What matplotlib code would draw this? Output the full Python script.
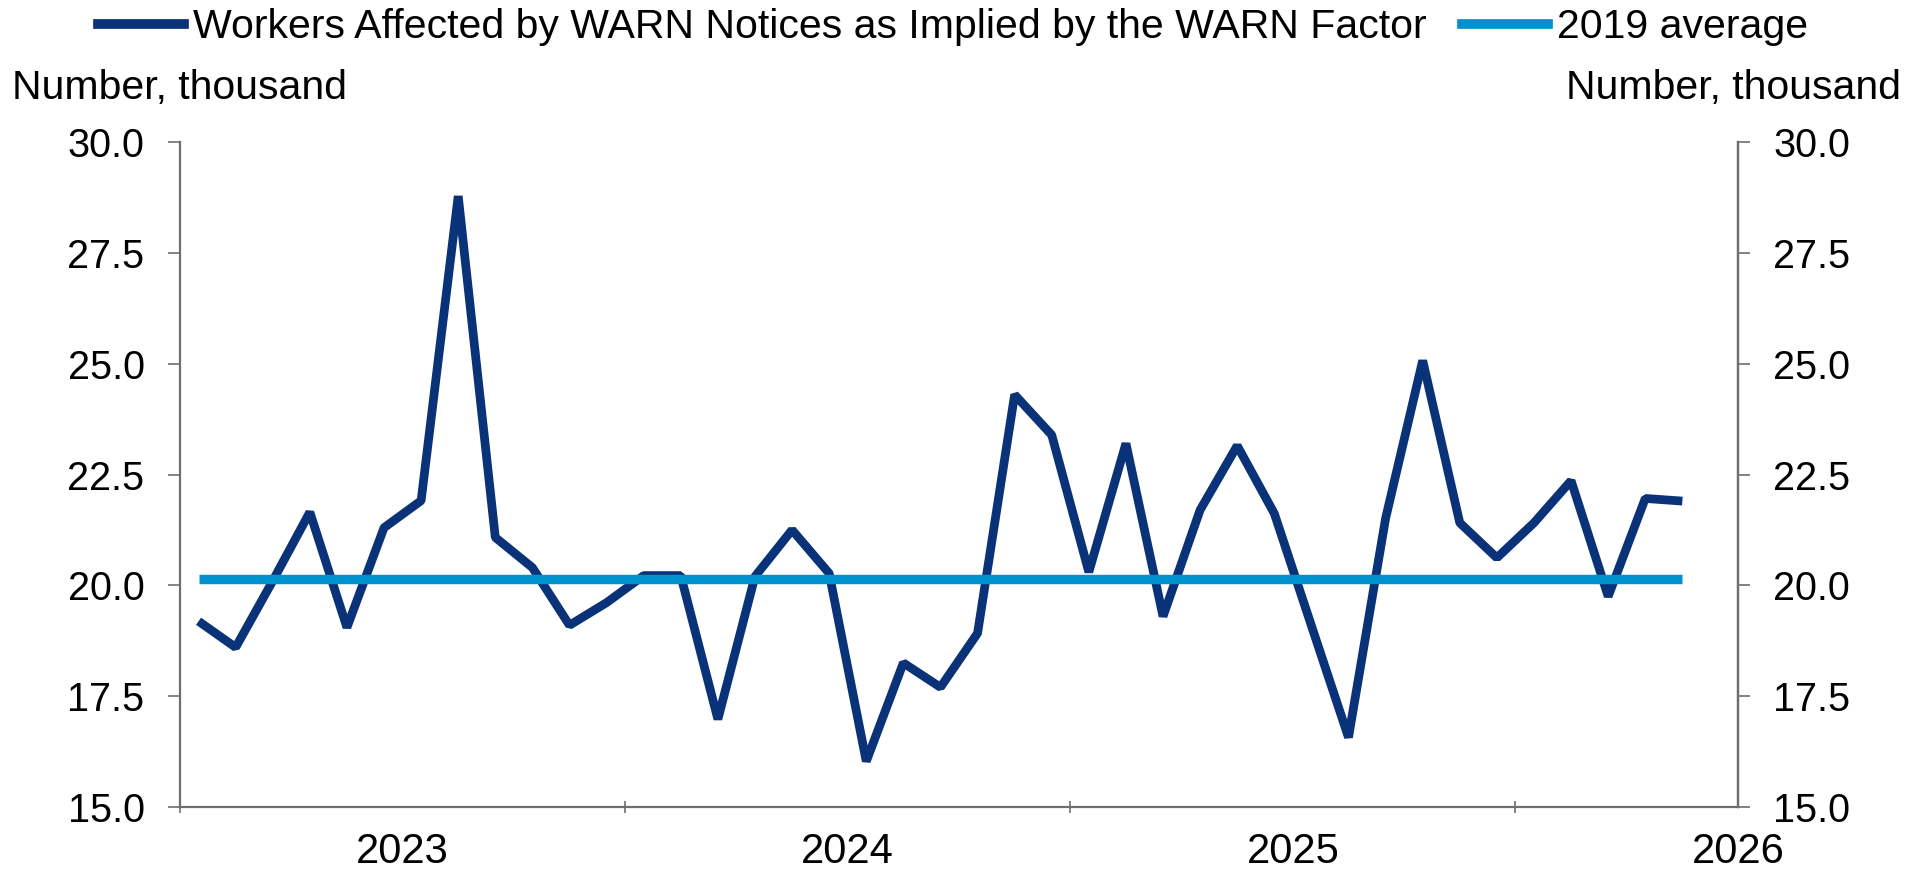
import matplotlib
matplotlib.use('Agg')
import matplotlib.pyplot as plt
from matplotlib.lines import Line2D
import numpy as np
import pandas as pd

# ---- data ----
months = pd.period_range('2023-01', periods=41, freq='M')
warn_workers = [19.19, 18.60, 20.10, 21.65, 19.05, 21.30, 21.91, 28.78, 21.08, 20.40,
                19.10, 19.61, 20.22, 20.22, 16.98, 20.20, 21.25, 20.27, 16.03, 18.25,
                17.70, 18.92, 24.30, 23.39, 20.30, 23.20, 19.30, 21.70, 23.15, 21.62,
                19.09, 16.57, 21.51, 25.07, 21.41, 20.62, 21.41, 22.36, 19.75, 21.96,
                21.90]
avg_2019 = 20.15
year_labels = ['2023', '2024', '2025', '2026']
y_ticks = [15.0, 17.5, 20.0, 22.5, 25.0, 27.5, 30.0]

series_name = 'Workers Affected by WARN Notices as Implied by the WARN Factor'
avg_name = '2019 average'

# ---- style ----
plt.rcParams['font.family'] = ['Liberation Sans', 'DejaVu Sans']
dark = '#0A3278'
light = '#0092D0'
spine_c = '#6E6E6E'
fs_y = 28.5
fs_x = 30
fs_lab = 29.5
fs_leg = 29.5

start = pd.Period('2023-01', freq='M')
x = np.array([(m - start).n for m in months]) + 0.5

fig = plt.figure(figsize=(19.23, 8.73), dpi=100)
ax = fig.add_axes([180 / 1923, 1 - 807 / 873, (1738 - 180) / 1923, (807 - 142) / 873])

ax.plot(x, warn_workers, color=dark, lw=6.3, solid_joinstyle='bevel',
        solid_capstyle='butt', zorder=2)
ax.plot([x[0], x[-1]], [avg_2019, avg_2019], color=light, lw=6.8, zorder=3,
        solid_capstyle='butt')

ax.set_xlim(0, 42)
ax.set_ylim(15, 30)
ax.set_yticks(y_ticks)
ax.set_yticklabels([f'{v:.1f}' for v in y_ticks])

ax.set_xticks([0, 12, 24, 36])
ax.set_xticklabels([])
ax.set_xticks([6, 18, 30, 42], minor=True)
ax.set_xticklabels(year_labels, minor=True)
ax.tick_params(axis='x', which='major', direction='inout', length=9, width=1.2,
               color=spine_c)
ax.tick_params(axis='x', which='minor', length=0, pad=18, labelsize=fs_x)
ax.tick_params(axis='y', direction='out', length=8.5, width=1.2, color=spine_c,
               pad=17, labelsize=fs_y)

for s in ['left', 'bottom', 'right']:
    ax.spines[s].set_color(spine_c)
    ax.spines[s].set_linewidth(1.6)
ax.spines['top'].set_visible(False)

ax2 = ax.twinx()
ax2.set_ylim(15, 30)
ax2.set_yticks(y_ticks)
ax2.set_yticklabels([f'{v:.1f}' for v in y_ticks])
ax2.tick_params(axis='y', direction='out', length=8.5, width=1.2, color=spine_c,
                pad=17, labelsize=fs_y)
for s in ['left', 'bottom', 'top']:
    ax2.spines[s].set_visible(False)
ax2.spines['right'].set_color(spine_c)
ax2.spines['right'].set_linewidth(1.6)

fig.text(12 / 1923, 1 - 88 / 873, 'Number, thousand', fontsize=fs_lab, ha='left', va='center')
fig.text(1901 / 1923, 1 - 88 / 873, 'Number, thousand', fontsize=fs_lab, ha='right', va='center')

handles = [Line2D([], [], color=dark, lw=7), Line2D([], [], color=light, lw=7)]
fig.legend(handles, [series_name, avg_name], loc='center', ncol=2,
           bbox_to_anchor=(953 / 1923, 1 - 27 / 873), frameon=False, fontsize=fs_leg,
           handlelength=2.1, handletextpad=0.2, columnspacing=0.88,
           borderpad=0, borderaxespad=0)

fig.savefig('out.png', dpi=100)
